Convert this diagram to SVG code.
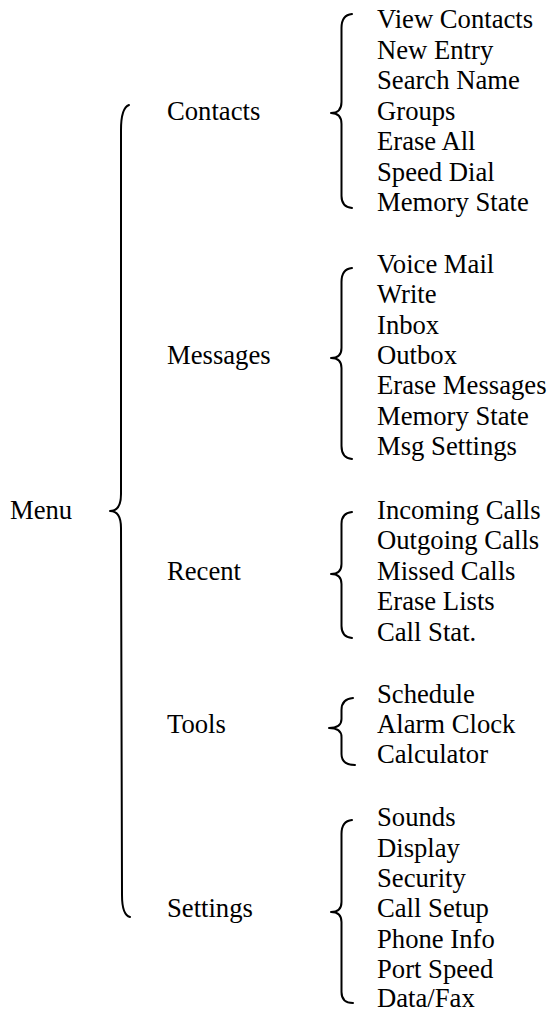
<svg xmlns="http://www.w3.org/2000/svg" width="548" height="1011" viewBox="0 0 548 1011">
<style>
text{font-family:"Liberation Serif","Times New Roman",serif;font-size:26.67px;fill:#000}
.b{fill:none;stroke:#000;stroke-width:2;stroke-linecap:round;stroke-linejoin:round}
</style>
<rect width="548" height="1011" fill="#fff"/>
<g id="connectors">
<path class="b" d="M129,105 Q121,108 121,130 L121,494 Q121,511 110,511 Q121,511 121,528 L122,895 Q122,915 130,917"/>
<path class="b" d="M352,14 Q341.5,15 341.5,28 L341.5,102 Q341.5,113 331,113 Q341.5,113 341.5,124 L341.5,196 Q341.5,207 352,208"/>
<path class="b" d="M352,268 Q341.5,269 341.5,282 L341.5,348 Q341.5,358 331,358 Q341.5,358 341.5,368 L341.5,446 Q341.5,458 352,459"/>
<path class="b" d="M352,512 Q341.5,513 341.5,524 L341.5,564 Q341.5,574 331,574 Q341.5,574 341.5,584 L341.5,626 Q341.5,637 352,638"/>
<path class="b" d="M353,698 Q341.5,699 341.5,710 L341.5,719 Q341.5,728 329,728 Q341.5,728 341.5,737 L341.5,754 Q341.5,765 355,765"/>
<path class="b" d="M352,820 Q341.5,821 341.5,834 L341.5,902 Q341.5,912 331,912 Q341.5,912 341.5,922 L341.5,992 Q341.5,1003 353,1003"/>
</g>
<g id="menu"><text x="10" y="519">Menu</text></g>
<g id="contacts"><text x="167" y="119.8">Contacts</text></g>
<g id="messages"><text x="167" y="364">Messages</text></g>
<g id="recent"><text x="167" y="580">Recent</text></g>
<g id="tools"><text x="167" y="733">Tools</text></g>
<g id="settings"><text x="167" y="917">Settings</text></g>
<g id="contacts-items">
<text x="377" y="28.3">View Contacts</text>
<text x="377" y="58.8">New Entry</text>
<text x="377" y="89.3">Search Name</text>
<text x="377" y="119.8">Groups</text>
<text x="377" y="150.3">Erase All</text>
<text x="377" y="180.8">Speed Dial</text>
<text x="377" y="211.3">Memory State</text>
</g>
<g id="messages-items">
<text x="377" y="272.7">Voice Mail</text>
<text x="377" y="303.1">Write</text>
<text x="377" y="333.5">Inbox</text>
<text x="377" y="363.9">Outbox</text>
<text x="377" y="394.3">Erase Messages</text>
<text x="377" y="424.7">Memory State</text>
<text x="377" y="455.1">Msg Settings</text>
</g>
<g id="recent-items">
<text x="377" y="519">Incoming Calls</text>
<text x="377" y="549.4">Outgoing Calls</text>
<text x="377" y="579.8">Missed Calls</text>
<text x="377" y="610.2">Erase Lists</text>
<text x="377" y="640.6">Call Stat.</text>
</g>
<g id="tools-items">
<text x="377" y="702.5">Schedule</text>
<text x="377" y="733">Alarm Clock</text>
<text x="377" y="763">Calculator</text>
</g>
<g id="settings-items">
<text x="377" y="826">Sounds</text>
<text x="377" y="856.5">Display</text>
<text x="377" y="887">Security</text>
<text x="377" y="917">Call Setup</text>
<text x="377" y="947.5">Phone Info</text>
<text x="377" y="978">Port Speed</text>
<text x="377" y="1006.5">Data/Fax</text>
</g>
</svg>
